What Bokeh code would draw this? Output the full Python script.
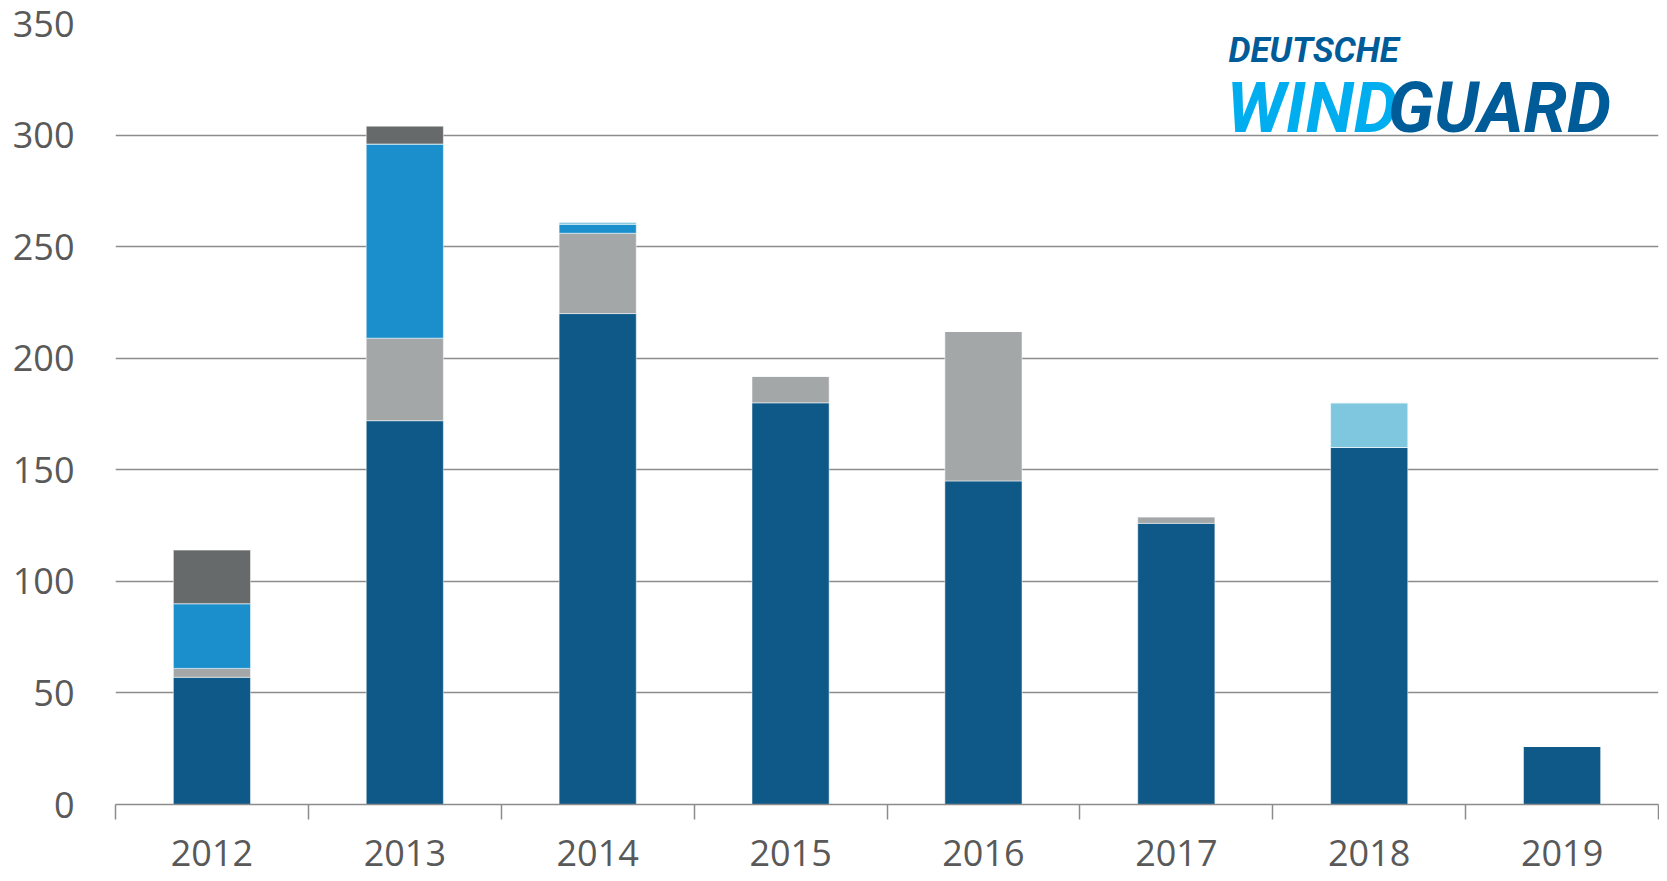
from bokeh.plotting import figure
from bokeh.models import ColumnDataSource, Range1d, FixedTicker, Label
from bokeh.embed import file_html
from bokeh.resources import INLINE

years = ["2012", "2013", "2014", "2015", "2016", "2017", "2018", "2019"]
s_darkblue = [57, 172, 220, 180, 145, 126, 160, 26]
s_grey = [4, 37, 36, 12, 67, 3, 0, 0]
s_blue = [29, 87, 4, 0, 0, 0, 0, 0]
s_lightblue = [0, 0, 1, 0, 0, 0, 20, 0]
s_darkgrey = [24, 8, 0, 0, 0, 0, 0, 0]
y_ticks = [0, 50, 100, 150, 200, 250, 300, 350]

stackers = ["darkblue", "grey", "blue", "lightblue", "darkgrey"]
colors = ["#0e5987", "#a4a7a8", "#1b8fcc", "#7fc6df", "#676a6b"]

xs = [i + 0.5 for i in range(len(years))]
source = ColumnDataSource(dict(x=xs, darkblue=s_darkblue, grey=s_grey, blue=s_blue,
                               lightblue=s_lightblue, darkgrey=s_darkgrey))

p = figure(width=1659, height=880, output_backend="svg", toolbar_location=None,
           x_range=Range1d(0, len(years)), y_range=Range1d(0, 350),
           min_border_left=115, min_border_right=1, min_border_top=23, min_border_bottom=76)
p.outline_line_color = None
p.background_fill_color = "white"

p.vbar_stack(stackers, x="x", width=0.4, source=source, color=colors,
             line_color="white", line_width=1, line_alpha=0.5)

# axes
xa = p.xaxis[0]
xa.ticker = FixedTicker(ticks=xs, minor_ticks=list(range(len(years) + 1)))
xa.major_label_overrides = {x: y for x, y in zip(xs, years)}
xa.major_tick_line_color = None
xa.major_tick_out = 0
xa.major_tick_in = 0
xa.minor_tick_out = 15
xa.minor_tick_in = 0
xa.minor_tick_line_color = "#8c8c8c"
xa.minor_tick_line_width = 1.5
xa.axis_line_color = "#8c8c8c"
xa.axis_line_width = 1.5
xa.major_label_text_font = "Open Sans"
xa.major_label_text_font_size = "36px"
xa.major_label_text_color = "#595959"
xa.major_label_standoff = 20

ya = p.yaxis[0]
ya.ticker = FixedTicker(ticks=y_ticks)
ya.axis_line_color = None
ya.major_tick_line_color = None
ya.minor_tick_line_color = None
ya.major_tick_out = 0
ya.major_tick_in = 0
ya.major_label_text_font = "Open Sans"
ya.major_label_text_font_size = "36px"
ya.major_label_text_color = "#595959"
ya.major_label_standoff = 41

p.xgrid.grid_line_color = None
p.ygrid.grid_line_color = "#8c8c8c"
p.ygrid.grid_line_width = 1.5
p.ygrid.ticker = FixedTicker(ticks=y_ticks)

# logo
logo_font = "Roboto"
p.add_layout(Label(x=5.77, y=337.7, text="DEUTSCHE", text_font=logo_font,
                   text_font_style="bold italic", text_font_size="35px",
                   text_color="#005b99", text_baseline="alphabetic"))
p.add_layout(Label(x=5.76, y=312, text="WIND", text_font=logo_font,
                   text_font_style="bold italic", text_font_size="70px",
                   text_color="#00aeef", text_baseline="alphabetic"))
p.add_layout(Label(x=7.755, y=312, text="GUARD", text_font=logo_font,
                   text_font_style="bold italic", text_font_size="70px",
                   text_color="#005b99", text_baseline="alphabetic", text_align="right"))

open("out.html", "w").write(file_html(p, INLINE))
